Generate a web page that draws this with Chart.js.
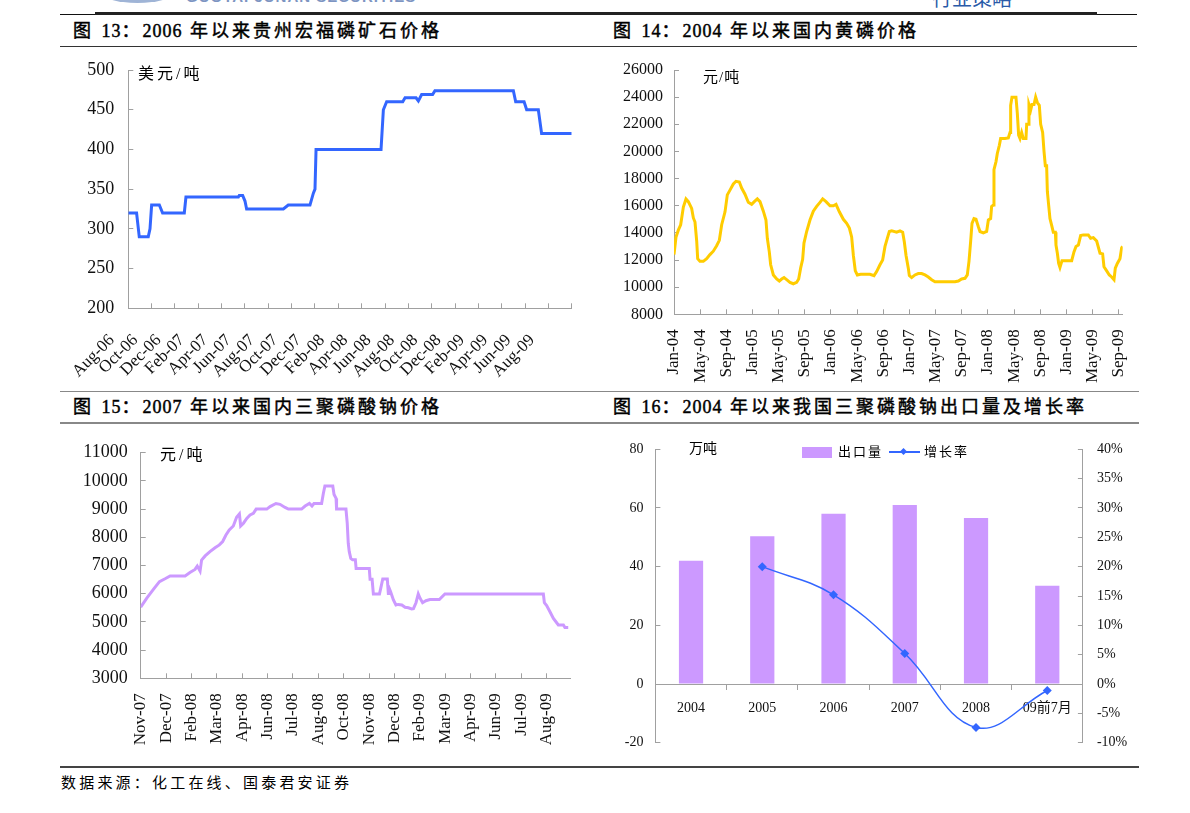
<!DOCTYPE html>
<html>
<head>
<meta charset="utf-8">
<script src="https://cdn.jsdelivr.net/npm/chart.js@4.4.0/dist/chart.umd.min.js"></script>
<style>
html,body{margin:0;padding:0;background:#fff;}
#page{position:relative;width:1190px;height:813px;overflow:hidden;font-family:"Liberation Serif","Noto Sans CJK SC",serif;color:#000;}
.ln{position:absolute;}
.title{position:absolute;font-size:18px;line-height:20px;letter-spacing:3px;white-space:nowrap;-webkit-text-stroke:0.45px #000;}
.title .n{letter-spacing:1px;}
.unit{position:absolute;white-space:nowrap;}
canvas{position:absolute;}
</style>
</head>
<body>
<div id="page">
  <!-- cut-off page header fragments -->
  <div class="ln" style="left:100px;top:-20px;width:75px;height:23px;border-radius:50%;background:#9fb4d6;"></div>
  <div class="unit" style="left:186px;top:-11px;font-family:'Liberation Sans',sans-serif;font-weight:bold;font-size:15px;line-height:16px;color:#7d95c2;letter-spacing:1px;">GUOTAI JUNAN SECURITIES</div>
  <div class="unit" style="left:932px;top:-12px;font-family:'Noto Sans CJK SC',sans-serif;font-size:20px;line-height:20px;color:#2a5aa8;">行业策略</div>

  <div class="ln" style="left:60px;top:14px;width:1077px;height:1px;background:#111;"></div>
  <div class="ln" style="left:95px;top:12px;width:1002px;height:3px;background:#222;"></div>
  <div class="ln" style="left:60px;top:46px;width:1077px;height:1px;background:#333;"></div>
  <div class="ln" style="left:60px;top:391px;width:1079px;height:1px;background:#888;"></div>
  <div class="ln" style="left:60px;top:422px;width:1079px;height:2px;background:#888;"></div>
  <div class="ln" style="left:60px;top:766px;width:1079px;height:2px;background:#444;"></div>

  <div class="title" style="left:73px;top:21px;">图 <span class="n">13</span>：<span class="n">2006</span> 年以来贵州宏福磷矿石价格</div>
  <div class="title" style="left:613px;top:21px;">图 <span class="n">14</span>：<span class="n">2004</span> 年以来国内黄磷价格</div>
  <div class="title" style="left:73px;top:397px;">图 <span class="n">15</span>：<span class="n">2007</span> 年以来国内三聚磷酸钠价格</div>
  <div class="title" style="left:613px;top:397px;">图 <span class="n">16</span>：<span class="n">2004</span> 年以来我国三聚磷酸钠出口量及增长率</div>

  <canvas id="c1" width="530" height="330" style="left:60px;top:55px;"></canvas>
  <canvas id="c2" width="530" height="330" style="left:610px;top:55px;"></canvas>
  <canvas id="c3" width="530" height="328" style="left:60px;top:437px;"></canvas>
  <canvas id="c4" width="540" height="328" style="left:600px;top:437px;"></canvas>

  <div class="unit" style="left:138px;top:66px;font-size:16px;line-height:16px;letter-spacing:3px;">美元/吨</div>
  <div class="unit" style="left:703px;top:70px;font-size:15px;line-height:15px;letter-spacing:1px;">元/吨</div>
  <div class="unit" style="left:160px;top:447px;font-size:16px;line-height:16px;letter-spacing:3px;">元/吨</div>
  <div class="unit" style="left:689px;top:442px;font-size:14px;line-height:14px;">万吨</div>

  <!-- legend of figure 16 -->
  <div class="ln" style="left:802px;top:447px;width:30px;height:11px;background:#CC99FF;"></div>
  <div class="unit" style="left:838px;top:445px;font-size:13px;line-height:13px;letter-spacing:2px;">出口量</div>
  <div class="ln" style="left:889px;top:451px;width:31px;height:1.5px;background:#3366FF;"></div>
  <div class="ln" style="left:901px;top:449px;width:5px;height:5px;background:#3366FF;transform:rotate(45deg);"></div>
  <div class="unit" style="left:924px;top:445px;font-size:13px;line-height:13px;letter-spacing:2px;">增长率</div>

  <div class="unit" style="left:61px;top:775px;font-size:15px;line-height:16px;letter-spacing:3.2px;">数据来源：化工在线、国泰君安证券</div>
</div>

<script>
// ---------- Figure 13: Guizhou Hongfu phosphate rock price (USD/t) ----------
const oreTickLabels = ['Aug-06','Oct-06','Dec-06','Feb-07','Apr-07','Jun-07','Aug-07','Oct-07','Dec-07','Feb-08','Apr-08','Jun-08','Aug-08','Oct-08','Dec-08','Feb-09','Apr-09','Jun-09','Aug-09'];
// months elapsed since Aug-06
const oreMonths = [0, 0.71, 0.94, 1.71, 1.86, 2.0, 2.66, 2.94, 4.8, 4.94, 9.43, 9.51, 9.8, 10.0, 10.14, 13.29, 13.71, 15.57, 15.86, 16.0, 16.09, 21.66, 21.86, 22.14, 23.52, 23.72, 24.66, 24.86, 25.14, 26.08, 26.28, 33.0, 33.2, 33.92, 34.14, 35.14, 35.42, 38];
const orePrice  = [320, 320, 290, 290, 300, 330, 330, 320, 320, 340, 340, 342, 342, 335, 325, 325, 330, 330, 345, 350, 400, 400, 450, 460, 460, 465, 465, 461, 469, 469, 474, 474, 460, 460, 450, 450, 420, 420];

// ---------- Figure 14: domestic yellow phosphorus price (CNY/t) ----------
const p4TickLabels = ['Jan-04','May-04','Sep-04','Jan-05','May-05','Sep-05','Jan-06','May-06','Sep-06','Jan-07','May-07','Sep-07','Jan-08','May-08','Sep-08','Jan-09','May-09','Sep-09'];
// months elapsed since Jan-04
const p4Months = [0,0.31,0.66,1.02,1.43,1.83,2.19,2.70,2.96,3.21,3.47,3.62,3.97,4.48,4.99,5.50,6.01,6.52,6.93,7.29,7.80,8.15,8.56,9.07,9.48,9.99,10.34,10.85,11.36,11.87,12.28,12.74,13.15,13.66,14.06,14.27,14.57,14.78,15.19,15.70,16.10,16.46,16.82,17.22,17.73,18.24,18.75,19.06,19.36,19.67,19.87,20.28,20.79,21.30,21.81,22.32,22.73,23.24,23.85,24.36,24.77,25.28,25.89,26.40,26.81,27.16,27.42,27.72,28.03,28.54,29.20,29.96,30.58,30.98,31.49,31.90,32.26,32.61,32.92,33.28,34.04,34.55,34.96,35.21,35.47,35.82,35.98,36.33,36.84,37.35,37.86,38.37,38.88,39.39,39.90,40.67,42.19,42.96,43.47,43.98,44.49,44.84,45.10,45.35,45.56,45.86,46.17,46.53,46.78,47.29,47.80,48.06,48.41,48.56,48.82,48.92,49.23,49.43,49.74,49.94,50.60,51.11,51.37,51.47,51.67,52.28,52.49,52.69,52.90,53.15,53.41,53.81,53.92,54.17,54.27,54.53,54.73,55.04,55.29,55.55,55.85,56.06,56.36,56.57,56.77,56.97,57.08,57.28,57.48,57.74,57.99,58.30,58.40,58.61,58.81,59.01,59.32,60.03,60.80,61.15,61.46,61.82,62.17,62.58,63.34,63.70,64.11,64.62,65.13,65.53,65.74,66.15,66.55,66.91,67.27,67.47,67.78,68.18,68.44,68.59];
const p4Price = [12400,13700,14200,14600,15900,16500,16300,15800,15100,14800,13400,12100,11900,11900,12100,12400,12650,13050,13450,14600,15550,16800,17150,17600,17800,17750,17300,16850,16250,16100,16300,16500,16300,15600,14950,13600,12600,11650,10900,10600,10450,10600,10700,10550,10350,10250,10350,10600,11400,12050,13250,14100,14950,15600,15950,16250,16500,16300,16000,16000,16100,15550,15000,14700,14350,13700,12350,11200,10900,10950,10950,10950,10850,11150,11650,12000,13000,13600,14100,14150,14050,14150,14050,13350,12350,11400,10850,10700,10900,11000,11000,10900,10750,10550,10400,10400,10400,10400,10450,10600,10650,10900,11900,13350,14700,15050,15000,14450,14100,14000,14100,14950,15050,15950,16050,18650,19250,19850,20450,20950,20950,21000,21400,23400,24000,24000,22800,21200,20950,21400,20950,20950,22000,22000,23450,23050,23450,23450,24000,23600,23400,22000,21400,20000,18950,18950,17050,16050,15050,14550,14050,14050,13100,12500,11750,11450,11950,11950,11950,12600,13000,13100,13800,13850,13850,13600,13650,13400,12500,12450,11500,11200,10900,10750,10550,11400,11750,12100,12900,13000];

// ---------- Figure 15: domestic STPP price (CNY/t) ----------
const stppTickLabels = ['Nov-07','Dec-07','Feb-08','Mar-08','Apr-08','Jun-08','Jul-08','Aug-08','Oct-08','Nov-08','Dec-08','Feb-09','Mar-09','Apr-09','Jun-09','Jul-09','Aug-09'];
// position along the category axis (label units)
const stppPos = [0,0.24,0.50,0.74,0.96,1.16,1.75,1.94,2.14,2.23,2.34,2.40,2.54,2.73,2.93,3.10,3.23,3.36,3.49,3.65,3.78,3.89,3.94,4.05,4.18,4.31,4.44,4.55,4.97,5.10,5.33,5.49,5.69,5.82,6.34,6.48,6.65,6.75,6.83,7.13,7.20,7.26,7.57,7.62,7.70,7.72,8.09,8.14,8.18,8.22,8.28,8.35,8.46,8.49,9.01,9.04,9.12,9.17,9.41,9.46,9.54,9.72,9.76,9.77,9.85,9.96,10.06,10.15,10.29,10.42,10.55,10.68,10.75,10.85,10.94,11.01,11.11,11.24,11.40,11.77,11.99,15.87,15.91,16.00,16.13,16.26,16.46,16.66,16.72,16.85];
const stppPrice = [5520,5840,6150,6430,6530,6630,6630,6750,6860,6980,6800,7190,7340,7490,7630,7730,7850,8080,8260,8400,8710,8830,8400,8500,8670,8790,8850,9000,9000,9090,9200,9170,9060,9000,9000,9110,9200,9110,9200,9200,9560,9820,9820,9520,9380,9000,9000,8500,7790,7490,7250,7200,7200,6890,6890,6510,6510,5990,5990,6190,6520,6520,6010,6250,6070,5780,5600,5620,5600,5520,5500,5460,5470,5680,5990,5840,5680,5750,5790,5790,5990,5990,5680,5580,5360,5130,4890,4890,4800,4800];

// ---------- Figure 16: STPP exports (10k t) and growth ----------
const exportYears  = ['2004','2005','2006','2007','2008','09前7月'];
const exportVolume = [42, 50.4, 58, 61, 56.6, 33.5];
const exportGrowth = [null, 20, 15.2, 5.2, -7.4, -1.1];

// ---------- styling ----------
const SERIF = '"Liberation Serif", "Noto Sans CJK SC", serif';
const AXIS = '#a0a0a0';
const TXT = '#111';
Chart.defaults.font.family = SERIF;
Chart.defaults.color = TXT;

function grid(opts) {
  return Object.assign({display: true, drawOnChartArea: false, drawTicks: true, tickLength: -5, color: AXIS, lineWidth: 1}, opts || {});
}
const border = {display: true, color: AXIS, width: 1};
const plain = v => String(v);
// fix an axis' thickness and drop the extra label padding Chart.js would add to the layout
const fixW = w => s => { s.width = w; s.paddingTop = 0; s.paddingBottom = 0; };
const fixH = h => s => { s.height = h; s.paddingLeft = 0; s.paddingRight = 0; };

function baseOptions(pad) {
  return {
    responsive: false, animation: false, events: [],
    layout: {padding: pad},
    plugins: {legend: {display: false}, tooltip: {enabled: false}, title: {display: false}},
    elements: {point: {radius: 0}, line: {tension: 0}}
  };
}
const pts = (xs, ys) => xs.map((x, i) => ({x: x, y: ys[i]}));

// Figure 13
(function () {
  const opt = baseOptions({left: 0, right: 18.3, top: 15, bottom: 0});
  opt.scales = {
    x: {
      type: 'linear', min: 0, max: 38,
      afterBuildTicks: s => {
        const t = [];
        for (let m = 0; m <= 38; m += 2) t.push({value: m, mark: true, txt: ''});
        oreTickLabels.forEach((lab, i) => t.push({value: 2 * i - 1.4, mark: false, txt: lab}));
        s.ticks = t;
      },
      ticks: {autoSkip: false, minRotation: 45, maxRotation: 45, padding: 27, font: {size: 17}, color: TXT,
              callback: (v, i, ticks) => ticks[i].txt},
      grid: grid({color: c => (c.tick && c.tick.mark) ? AXIS : 'rgba(0,0,0,0)'}),
      border: border,
      afterFit: fixH(76.7)
    },
    y: {
      type: 'linear', min: 200, max: 500,
      ticks: {stepSize: 50, padding: 19, font: {size: 18}, color: TXT, callback: plain},
      grid: grid(), border: border,
      afterFit: fixW(68.3)
    }
  };
  new Chart(document.getElementById('c1'), {
    type: 'line',
    data: {datasets: [{data: pts(oreMonths, orePrice), borderColor: '#3366FF', borderWidth: 3, fill: false}]},
    options: opt
  });
})();

// Figure 14
(function () {
  const opt = baseOptions({left: 0, right: 17.3, top: 15, bottom: 0});
  opt.scales = {
    x: {
      type: 'linear', min: 0, max: 68.6,
      afterBuildTicks: s => { s.ticks = p4TickLabels.map((lab, i) => ({value: 4 * i, txt: lab})); },
      ticks: {autoSkip: false, minRotation: 90, maxRotation: 90, padding: 20, font: {size: 17}, color: TXT,
              callback: (v, i, ticks) => ticks[i].txt},
      grid: grid(), border: border,
      afterFit: fixH(70.7)
    },
    y: {
      type: 'linear', min: 8000, max: 26000,
      ticks: {stepSize: 2000, padding: 16, font: {size: 16}, color: TXT, callback: plain},
      grid: grid(), border: border,
      afterFit: fixW(64)
    }
  };
  new Chart(document.getElementById('c2'), {
    type: 'line',
    data: {datasets: [{data: pts(p4Months, p4Price), borderColor: '#FFCC00', borderWidth: 3, fill: false}]},
    options: opt
  });
})();

// Figure 15
(function () {
  const opt = baseOptions({left: 0, right: 20, top: 15.7, bottom: 0});
  opt.scales = {
    x: {
      type: 'linear', min: 0, max: 16.92,
      afterBuildTicks: s => { s.ticks = stppTickLabels.map((lab, i) => ({value: i, txt: lab})); },
      ticks: {autoSkip: false, minRotation: 90, maxRotation: 90, padding: 20, font: {size: 17}, color: TXT,
              callback: (v, i, ticks) => ticks[i].txt},
      grid: grid(), border: border,
      afterFit: fixH(86.7)
    },
    y: {
      type: 'linear', min: 3000, max: 11000,
      ticks: {stepSize: 1000, padding: 18, font: {size: 18}, color: TXT, callback: plain},
      grid: grid(), border: border,
      afterFit: fixW(80.7)
    }
  };
  new Chart(document.getElementById('c3'), {
    type: 'line',
    data: {datasets: [{data: pts(stppPos, stppPrice), borderColor: '#CC99FF', borderWidth: 3, fill: false}]},
    options: opt
  });
})();

// Figure 16
(function () {
  const opt = baseOptions({left: 0, right: 0, top: 12.3, bottom: 22.3});
  opt.scales = {
    x: {
      type: 'category', position: {y: 0}, offset: true,
      ticks: {padding: 11, font: {size: 14}, color: TXT, maxRotation: 0, minRotation: 0, autoSkip: false},
      grid: grid({offset: true, tickLength: 5}), border: border,
      afterFit: s => { s.paddingLeft = 0; s.paddingRight = 0; }
    },
    y: {
      type: 'linear', position: 'left', min: -20, max: 80,
      ticks: {stepSize: 20, padding: 17, font: {size: 14}, color: TXT, callback: plain},
      grid: grid(), border: border,
      afterFit: fixW(55.4)
    },
    y1: {
      type: 'linear', position: 'right', min: -10, max: 40,
      ticks: {stepSize: 5, padding: 19, font: {size: 14}, color: TXT, callback: v => v + '%'},
      grid: grid(), border: border,
      afterFit: fixW(57.1)
    }
  };
  new Chart(document.getElementById('c4'), {
    data: {
      labels: exportYears,
      datasets: [
        {type: 'line', label: '增长率', data: exportGrowth, yAxisID: 'y1', borderColor: '#3366FF', backgroundColor: '#3366FF',
         borderWidth: 1.5, tension: 0.4, pointStyle: 'rectRot', pointRadius: 4.5, pointBorderWidth: 0, order: 0},
        {type: 'bar', label: '出口量', data: exportVolume, yAxisID: 'y', backgroundColor: '#CC99FF',
         barPercentage: 0.34, categoryPercentage: 1, order: 1}
      ]
    },
    options: opt
  });
})();
</script>
</body>
</html>
